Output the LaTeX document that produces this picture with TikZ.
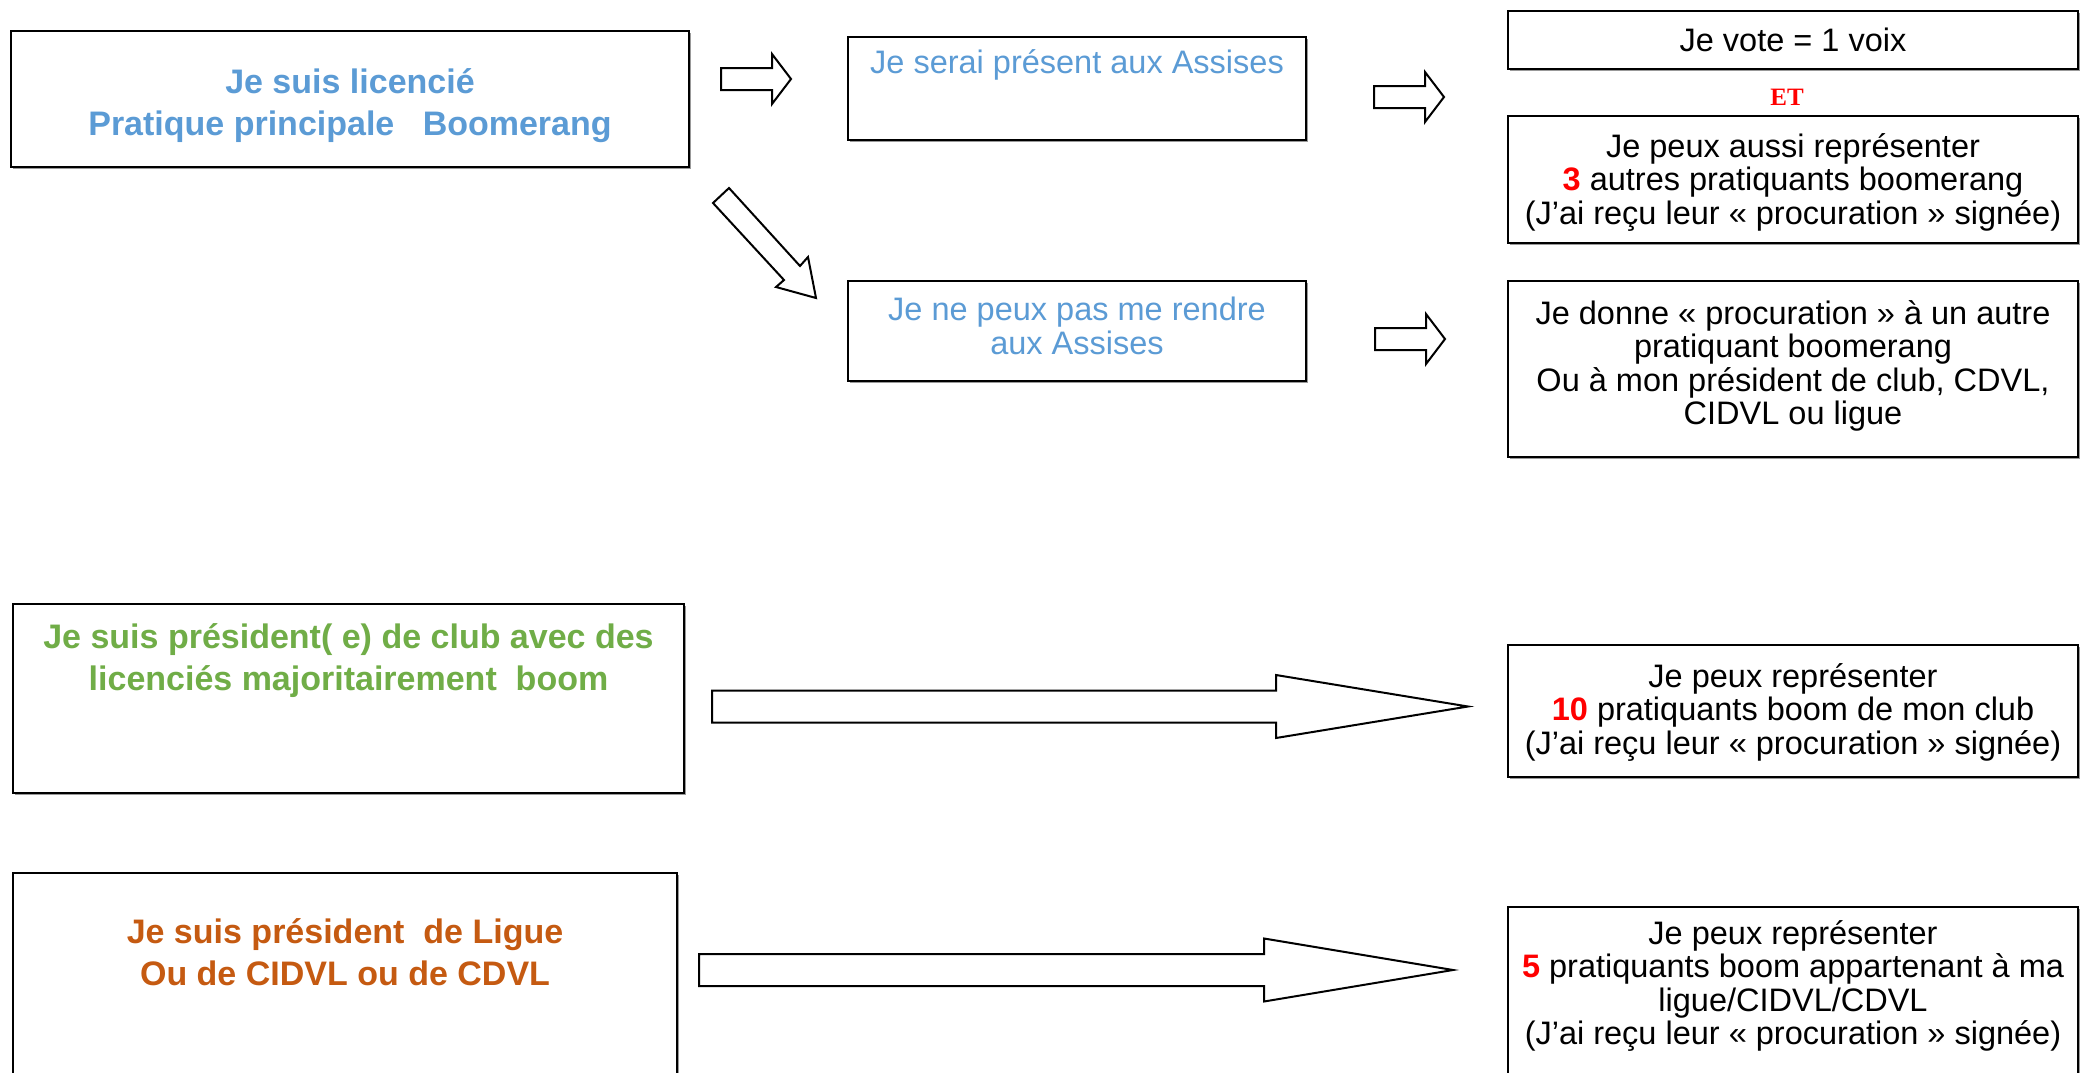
\documentclass[tikz,border=0pt]{standalone}
\usepackage{fontspec}
\setmainfont{Liberation Sans}
\newfontfamily\serifET{Liberation Serif}
\usetikzlibrary{shadows}
\definecolor{tblue}{HTML}{5B9BD5}
\definecolor{tgreen}{HTML}{70AD47}
\definecolor{torange}{HTML}{C55A11}
\definecolor{tred}{HTML}{FF0000}
\tikzset{
  box/.style={draw=black, line width=2.5pt, fill=white, inner sep=0pt,
    drop shadow={shadow xshift=1.5pt, shadow yshift=-1.5pt, fill=black!40, opacity=1}},
  reg/.style={font=\fontsize{32.5}{33.5}\selectfont, align=center, inner sep=0pt},
  bld/.style={font=\fontsize{34}{42}\selectfont\bfseries, align=center, inner sep=0pt},
  blockarrow/.style={draw=black, line width=2pt, fill=white, line join=miter},
  smallarrow/.pic={\draw[blockarrow] (0,-11) -- (51,-11) -- (51,-25) -- (70,0) -- (51,25) -- (51,11) -- (0,11) -- cycle;}
}
\begin{document}
\begin{tikzpicture}[x=1pt,y=-1pt]
\fill[white] (0,0) rectangle (2091,1072);
\useasboundingbox (0,0) rectangle (2091,1072);

% boxes
\node[box, minimum width=678pt, minimum height=136pt] (A) at (350,99) {};
\node[box, minimum width=458pt, minimum height=103pt] (B) at (1077,88.5) {};
\node[box, minimum width=570pt, minimum height=58pt] (C) at (1793,40) {};
\node[box, minimum width=570pt, minimum height=127pt] (D) at (1793,179.5) {};
\node[box, minimum width=458pt, minimum height=100pt] (E) at (1077,331) {};
\node[box, minimum width=570pt, minimum height=176pt] (F) at (1793,369) {};
\node[box, minimum width=671pt, minimum height=189pt] (G) at (348.5,698.5) {};
\node[box, minimum width=570pt, minimum height=132pt] (H) at (1793,711) {};
\node[box, minimum width=664pt, minimum height=217pt] (I) at (345,981.5) {};
\node[box, minimum width=570pt, minimum height=183pt] (J) at (1793,998.5) {};

% texts
\node[bld, text=tblue] (tA) at (350,106) {Je suis licencié\\Pratique principale\ \ \ Boomerang};
\node[reg, text=tblue] (tB) at (1077,65) {Je serai présent aux Assises};
\node[reg] (tC) at (1793,40) {Je vote = 1 voix};
\node[font=\fontsize{25}{28}\selectfont\serifET\bfseries, text=tred, inner sep=0pt] (tET) at (1787,97) {ET};
\node[reg] (tD) at (1793,182) {Je peux aussi représenter\\{\bfseries\color{tred}3} autres pratiquants boomerang\\(J’ai reçu leur « procuration » signée)};
\node[reg, text=tblue] (tE) at (1077,326) {Je ne peux pas me rendre\\aux Assises};
\node[reg] (tF) at (1793,366) {Je donne « procuration » à un autre\\pratiquant boomerang\\Ou à mon président de club, CDVL,\\CIDVL ou ligue};
\node[bld, text=tgreen] (tG) at (348.5,661) {Je suis président( e) de club avec des\\licenciés majoritairement\ \ boom};
\node[reg] (tH) at (1793,712) {Je peux représenter\\{\bfseries\color{tred}10} pratiquants boom de mon club\\(J’ai reçu leur « procuration » signée)};
\node[bld, text=torange] (tI) at (345,952) {Je suis président\ \ de Ligue\\Ou de CIDVL ou de CDVL};
\node[reg] (tJ) at (1793,986) {Je peux représenter\\{\bfseries\color{tred}5} pratiquants boom appartenant à ma\\ligue/CIDVL/CDVL\\(J’ai reçu leur « procuration » signée)};

% small block arrows
\pic at (721,79) {smallarrow};
\pic at (1374,97) {smallarrow};
\pic at (1375,339) {smallarrow};

% diagonal block arrow
\draw[blockarrow] (729,188) -- (800,266) -- (808,257) -- (816,298) -- (776,287) -- (784,280) -- (713,203) -- cycle;

% big block arrows
\draw[blockarrow] (712,690.5) -- (1276,690.5) -- (1276,675) -- (1468,706.5) -- (1276,738) -- (1276,722.5) -- (712,722.5) -- cycle;
\draw[blockarrow] (699,954) -- (1264,954) -- (1264,938.5) -- (1453,970) -- (1264,1001.5) -- (1264,986) -- (699,986) -- cycle;
\end{tikzpicture}
\end{document}
